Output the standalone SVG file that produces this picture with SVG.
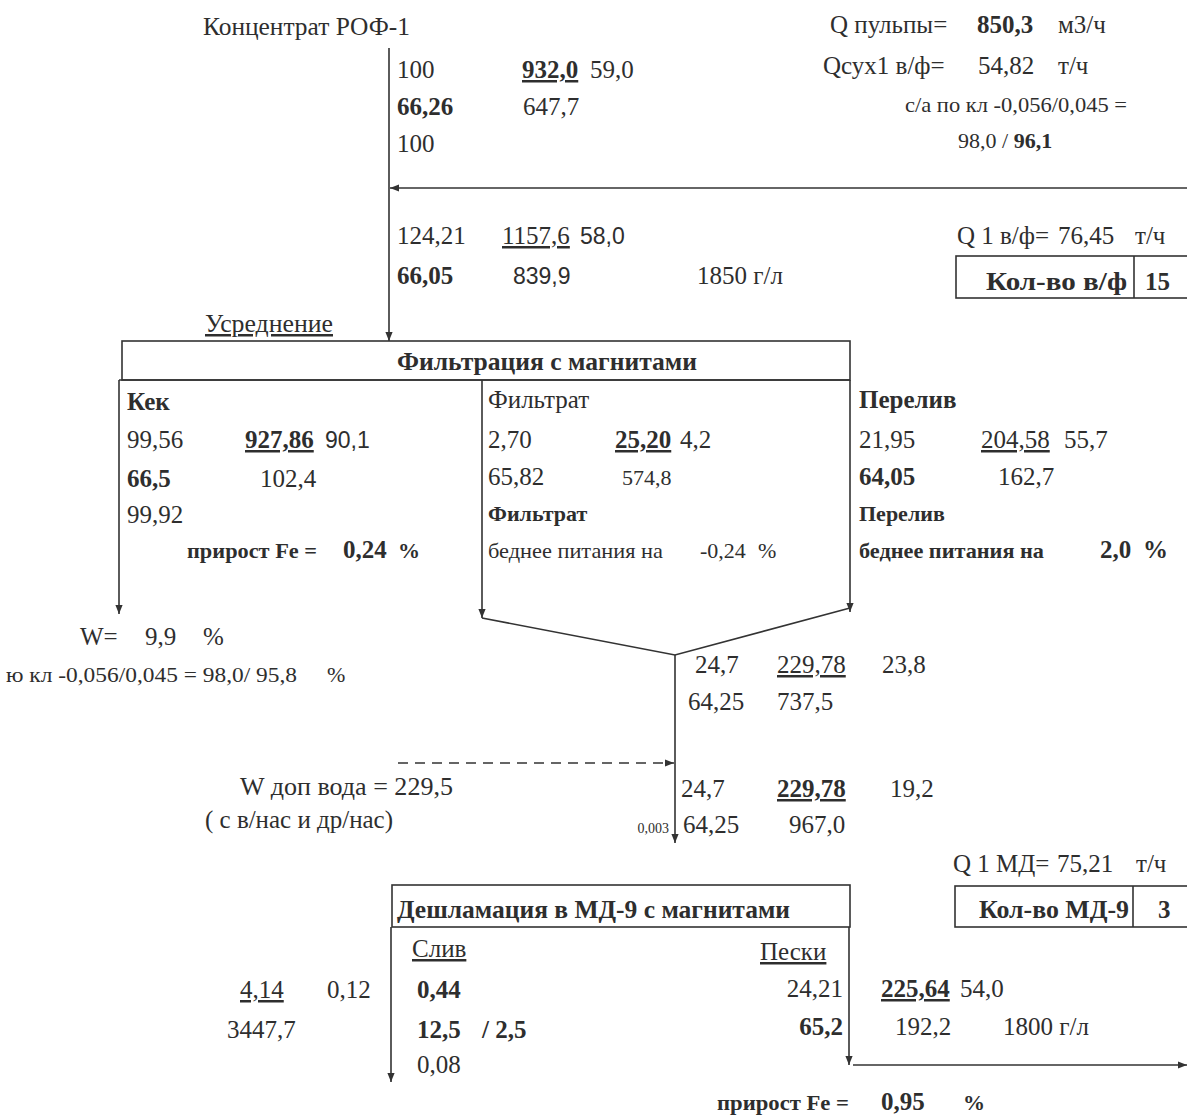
<svg xmlns="http://www.w3.org/2000/svg" width="1187" height="1117" viewBox="0 0 1187 1117">
<defs>
<style>
text{font-family:"Liberation Serif","Times New Roman",serif;font-size:25px;fill:#2e2e2e}
.b{font-weight:bold}
.s{font-family:"Liberation Sans",Arial,sans-serif;font-size:23px}
.sm{font-size:22px}
.xs{font-size:14px}
.u{text-decoration:underline}
.ln{stroke:#333;stroke-width:1.6;fill:none}
.box{stroke:#333;stroke-width:1.6;fill:none}
</style>
<marker id="ah" viewBox="0 0 10 10" refX="10" refY="5" markerWidth="9" markerHeight="9" markerUnits="userSpaceOnUse" orient="auto">
<path d="M0,1 L10,5 L0,9 z" fill="#333"/>
</marker>
</defs>
<rect width="1187" height="1117" fill="#fff"/>

<g id="connectors">
<line class="ln" x1="389" y1="48" x2="389" y2="341" marker-end="url(#ah)"/>
<line class="ln" x1="1187" y1="188" x2="390" y2="188" marker-end="url(#ah)"/>
<line class="ln" x1="119" y1="380" x2="119" y2="614" marker-end="url(#ah)"/>
<line class="ln" x1="482" y1="380" x2="482" y2="618" marker-end="url(#ah)"/>
<line class="ln" x1="850" y1="380" x2="850" y2="612" marker-end="url(#ah)"/>
<polyline class="ln" points="482,618 675,655 850,608"/>
<line class="ln" x1="675" y1="655" x2="675" y2="843" marker-end="url(#ah)"/>
<line class="ln" x1="398" y1="763" x2="674" y2="763" stroke-dasharray="10,7" marker-end="url(#ah)"/>
<line class="ln" x1="391" y1="927" x2="391" y2="1082" marker-end="url(#ah)"/>
<line class="ln" x1="849" y1="927" x2="849" y2="1065" marker-end="url(#ah)"/>
<line class="ln" x1="853" y1="1065" x2="1187" y2="1065" marker-end="url(#ah)"/>
</g>

<g id="n-source">
<text x="203" y="35" textLength="207" lengthAdjust="spacingAndGlyphs">Концентрат РОФ-1</text>
<text x="397" y="78">100</text>
<text x="522" y="78" class="b u">932,0</text>
<text x="590" y="78">59,0</text>
<text x="397" y="115" class="b">66,26</text>
<text x="523" y="115">647,7</text>
<text x="397" y="152">100</text>
</g>

<g id="n-params">
<text x="830" y="33">Q пульпы=</text>
<text x="977" y="33" class="b">850,3</text>
<text x="1058" y="33">м3/ч</text>
<text x="823" y="74">Qсух1 в/ф=</text>
<text x="978" y="74">54,82</text>
<text x="1058" y="74">т/ч</text>
<text x="905" y="112" class="sm" textLength="222" lengthAdjust="spacingAndGlyphs">с/а по кл -0,056/0,045 =</text>
<text x="958" y="148" class="sm">98,0 / <tspan class="b">96,1</tspan></text>
</g>

<g id="n-feed">
<text x="397" y="244">124,21</text>
<text x="502" y="244" class="u">1157,6</text>
<text x="580" y="244" class="s">58,0</text>
<text x="397" y="284" class="b">66,05</text>
<text x="513" y="284" class="s">839,9</text>
<text x="697" y="284">1850 г/л</text>
</g>

<g id="n-vf">
<text x="957" y="244">Q 1 в/ф=</text>
<text x="1058" y="244">76,45</text>
<text x="1135" y="244">т/ч</text>
<rect class="box" x="956" y="256" width="240" height="42"/>
<line class="ln" x1="1134" y1="256" x2="1134" y2="298"/>
<text x="986" y="290" class="b" textLength="141" lengthAdjust="spacingAndGlyphs">Кол-во в/ф</text>
<text x="1145" y="290" class="b">15</text>
</g>

<g id="n-filtration">
<text x="205" y="332" class="u" textLength="128" lengthAdjust="spacingAndGlyphs">Усреднение</text>
<rect class="box" x="122" y="341" width="728" height="39"/>
<line class="ln" x1="119" y1="380" x2="850" y2="380"/>
<text x="397" y="370" class="b" textLength="300" lengthAdjust="spacingAndGlyphs">Фильтрация с магнитами</text>
</g>

<g id="n-kek">
<text x="127" y="410" class="b">Кек</text>
<text x="127" y="448">99,56</text>
<text x="245" y="448" class="b u">927,86</text>
<text x="325" y="448" class="s">90,1</text>
<text x="127" y="487" class="b">66,5</text>
<text x="260" y="487">102,4</text>
<text x="127" y="523">99,92</text>
<text x="187" y="558" class="b sm" textLength="130" lengthAdjust="spacingAndGlyphs">прирост Fe =</text>
<text x="343" y="558" class="b">0,24</text>
<text x="398" y="558" class="b sm">%</text>
</g>

<g id="n-filtrat">
<text x="488" y="408">Фильтрат</text>
<text x="488" y="448">2,70</text>
<text x="615" y="448" class="b u">25,20</text>
<text x="680" y="448">4,2</text>
<text x="488" y="485">65,82</text>
<text x="622" y="485" class="sm">574,8</text>
<text x="488" y="521" class="b sm">Фильтрат</text>
<text x="488" y="558" class="sm" textLength="175" lengthAdjust="spacingAndGlyphs">беднее питания на</text>
<text x="700" y="558" class="sm">-0,24</text>
<text x="758" y="558" class="sm">%</text>
</g>

<g id="n-pereliv">
<text x="859" y="408" class="b">Перелив</text>
<text x="859" y="448">21,95</text>
<text x="981" y="448" class="u">204,58</text>
<text x="1064" y="448">55,7</text>
<text x="859" y="485" class="b">64,05</text>
<text x="998" y="485">162,7</text>
<text x="859" y="521" class="b sm">Перелив</text>
<text x="859" y="558" class="b sm" textLength="185" lengthAdjust="spacingAndGlyphs">беднее питания на</text>
<text x="1100" y="558" class="b">2,0</text>
<text x="1143" y="558" class="b">%</text>
</g>

<g id="n-w">
<text x="80" y="645">W=</text>
<text x="145" y="645">9,9</text>
<text x="203" y="645">%</text>
<text x="6" y="682" class="sm" textLength="291" lengthAdjust="spacingAndGlyphs">ю кл -0,056/0,045 = 98,0/ 95,8</text>
<text x="327" y="682" class="sm">%</text>
</g>

<g id="n-merge">
<text x="695" y="673">24,7</text>
<text x="777" y="673" class="u">229,78</text>
<text x="882" y="673">23,8</text>
<text x="688" y="710">64,25</text>
<text x="777" y="710">737,5</text>
</g>

<g id="n-water">
<text x="240" y="795" textLength="213" lengthAdjust="spacingAndGlyphs">W доп вода = 229,5</text>
<text x="205" y="828" textLength="188" lengthAdjust="spacingAndGlyphs">( с в/нас и др/нас)</text>
</g>

<g id="n-md-feed">
<text x="681" y="797">24,7</text>
<text x="777" y="797" class="b u">229,78</text>
<text x="890" y="797">19,2</text>
<text x="669" y="833" class="xs" text-anchor="end">0,003</text>
<text x="683" y="833">64,25</text>
<text x="789" y="833">967,0</text>
</g>

<g id="n-md-count">
<text x="953" y="872">Q 1 МД=</text>
<text x="1057" y="872">75,21</text>
<text x="1136" y="872">т/ч</text>
<rect class="box" x="955" y="886" width="240" height="41"/>
<line class="ln" x1="1133" y1="886" x2="1133" y2="927"/>
<text x="979" y="918" class="b" textLength="150" lengthAdjust="spacingAndGlyphs">Кол-во МД-9</text>
<text x="1158" y="918" class="b">3</text>
</g>

<g id="n-md9">
<rect class="box" x="392" y="885" width="458" height="42"/>
<text x="397" y="918" class="b" textLength="393" lengthAdjust="spacingAndGlyphs">Дешламация в МД-9 с магнитами</text>
</g>

<g id="n-sliv">
<text x="412" y="957" class="u">Слив</text>
<text x="240" y="998" class="u">4,14</text>
<text x="327" y="998">0,12</text>
<text x="417" y="998" class="b">0,44</text>
<text x="227" y="1038">3447,7</text>
<text x="417" y="1038" class="b">12,5</text>
<text x="482" y="1038" class="b">/ 2,5</text>
<text x="417" y="1073">0,08</text>
</g>

<g id="n-peski">
<text x="760" y="960" class="u">Пески</text>
<text x="843" y="997" text-anchor="end">24,21</text>
<text x="881" y="997" class="b u">225,64</text>
<text x="960" y="997">54,0</text>
<text x="843" y="1035" class="b" text-anchor="end">65,2</text>
<text x="895" y="1035">192,2</text>
<text x="1003" y="1035">1800 г/л</text>
<text x="717" y="1110" class="b sm" textLength="132" lengthAdjust="spacingAndGlyphs">прирост Fe =</text>
<text x="881" y="1110" class="b">0,95</text>
<text x="963" y="1110" class="b sm">%</text>
</g>
</svg>
